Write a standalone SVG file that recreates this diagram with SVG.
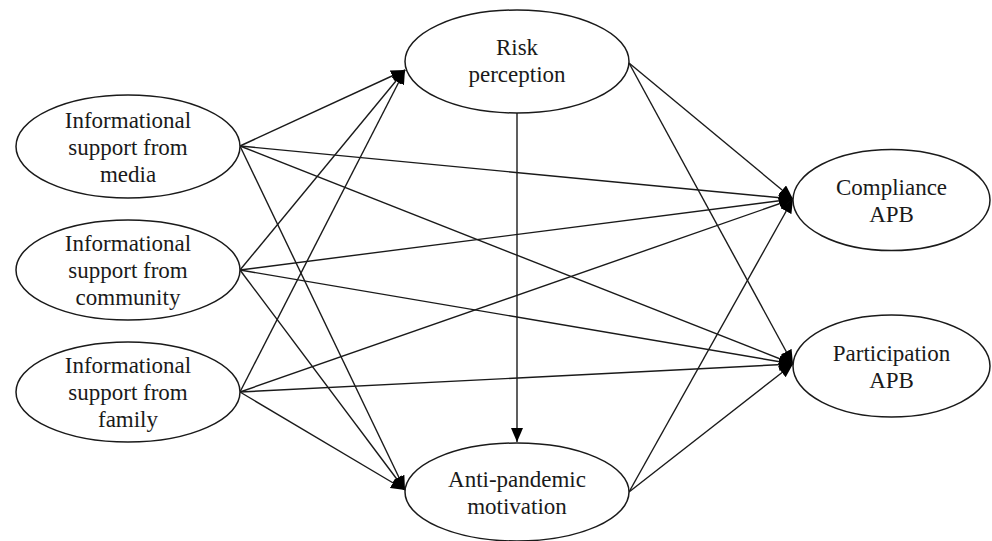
<svg xmlns="http://www.w3.org/2000/svg" width="992" height="541" viewBox="0 0 992 541">
<style>
.n ellipse{fill:#fff;stroke:#1a1a1a;stroke-width:1.5}
.n text{font-family:"Liberation Serif","Times New Roman",serif;font-size:23px;fill:#1a1a1a;text-anchor:middle}
.c line{stroke:#1a1a1a;stroke-width:1.4;marker-end:url(#ah)}
</style>
<defs>
<marker id="ah" markerUnits="userSpaceOnUse" markerWidth="15" markerHeight="13" refX="14" refY="6" orient="auto" viewBox="0 0 15 13">
<path d="M0,0 L14,6 L0,12 z" fill="#000"/>
</marker>
</defs>
<rect width="992" height="541" fill="#fff"/>
<g class="c" id="connectors">
<line x1="240" y1="146" x2="405" y2="70"/>
<line x1="240" y1="146" x2="405" y2="490"/>
<line x1="240" y1="146" x2="793" y2="199"/>
<line x1="240" y1="146" x2="793" y2="364"/>
<line x1="240" y1="270" x2="405" y2="70"/>
<line x1="240" y1="270" x2="405" y2="490"/>
<line x1="240" y1="270" x2="793" y2="199"/>
<line x1="240" y1="270" x2="793" y2="364"/>
<line x1="240" y1="392" x2="405" y2="70"/>
<line x1="240" y1="392" x2="405" y2="490"/>
<line x1="240" y1="392" x2="793" y2="199"/>
<line x1="240" y1="392" x2="793" y2="364"/>
<line x1="629" y1="63" x2="793" y2="199"/>
<line x1="629" y1="63" x2="793" y2="364"/>
<line x1="517" y1="113" x2="517" y2="442"/>
<line x1="629" y1="492" x2="793" y2="199"/>
<line x1="629" y1="492" x2="793" y2="364"/>
</g>
<g class="n" id="media">
<ellipse cx="128" cy="146.5" rx="112" ry="51.5"/>
<text x="128" y="128">Informational</text>
<text x="128" y="155">support from</text>
<text x="128" y="182">media</text>
</g>
<g class="n" id="community">
<ellipse cx="128" cy="270" rx="112" ry="50"/>
<text x="128" y="251">Informational</text>
<text x="128" y="278">support from</text>
<text x="128" y="305">community</text>
</g>
<g class="n" id="family">
<ellipse cx="128" cy="392" rx="112" ry="50"/>
<text x="128" y="373">Informational</text>
<text x="128" y="400">support from</text>
<text x="128" y="427">family</text>
</g>
<g class="n" id="risk">
<ellipse cx="517" cy="61.5" rx="112" ry="51.5"/>
<text x="517" y="55">Risk</text>
<text x="517" y="82">perception</text>
</g>
<g class="n" id="anti">
<ellipse cx="517" cy="492" rx="112" ry="49"/>
<text x="517" y="487">Anti-pandemic</text>
<text x="517" y="514">motivation</text>
</g>
<g class="n" id="compliance">
<ellipse cx="891.5" cy="200" rx="98.5" ry="50.5"/>
<text x="891.5" y="195">Compliance</text>
<text x="891.5" y="222">APB</text>
</g>
<g class="n" id="participation">
<ellipse cx="891.5" cy="366" rx="98.5" ry="51"/>
<text x="891.5" y="361">Participation</text>
<text x="891.5" y="388">APB</text>
</g>
</svg>
